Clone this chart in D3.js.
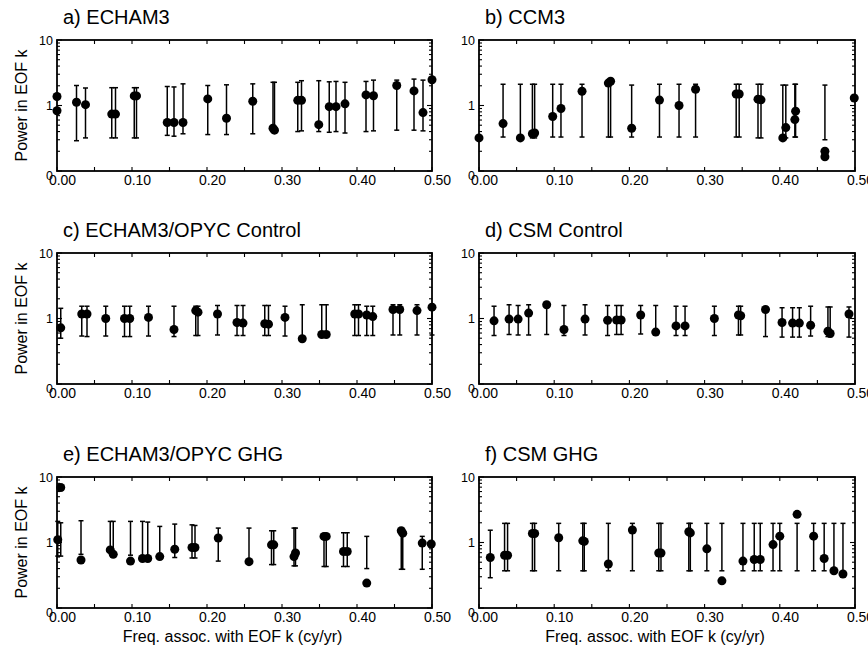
<!DOCTYPE html>
<html>
<head>
<meta charset="utf-8">
<script src="https://cdn.jsdelivr.net/npm/d3@7"></script>
<style>
  body { margin: 0; background: #fff; }
  text { font-family: "Liberation Sans", Arial, Helvetica, sans-serif; fill: #000; }
</style>
</head>
<body>
<svg id="chart" width="868" height="648"></svg>
<script>
// Panel titles and shared axis labelling
const panelTitles = ["a) ECHAM3", "b) CCM3", "c) ECHAM3/OPYC Control", "d) CSM Control", "e) ECHAM3/OPYC GHG", "f) CSM GHG"];
const freqTicks = [0, 0.1, 0.2, 0.3, 0.4, 0.5];
const freqTickLabels = ["0.00", "0.10", "0.20", "0.30", "0.40", "0.50"];
const powerTicks = [0.1, 1, 10];
const powerTickLabels = ["0", "1", "10"];
const xTitle = "Freq. assoc. with EOF k (cy/yr)";
const yTitle = "Power in EOF k";

// a) ECHAM3 : frequency, power, lower / upper bound (null = no bar)
const freqA  = [0.000, 0.000, 0.026, 0.038, 0.073, 0.078, 0.103, 0.106, 0.147, 0.156, 0.168, 0.201, 0.226, 0.261, 0.288, 0.290, 0.321, 0.326, 0.349, 0.363, 0.372, 0.384, 0.412, 0.422, 0.453, 0.476, 0.488, 0.500];
const powerA = [1.37, 0.83, 1.12, 1.03, 0.74, 0.74, 1.40, 1.40, 0.55, 0.55, 0.55, 1.26, 0.64, 1.16, 0.45, 0.42, 1.20, 1.20, 0.51, 0.96, 0.96, 1.06, 1.45, 1.41, 2.02, 1.67, 0.78, 2.47];
const loA    = [null, null, 0.29, 0.32, 0.32, 0.32, 0.32, 0.32, 0.35, 0.34, 0.37, 0.36, 0.36, 0.37, 0.40, 0.40, 0.40, 0.41, 0.40, 0.39, 0.40, 0.38, 0.40, 0.41, 0.42, 0.42, 0.41, null];
const hiA    = [null, null, 2.02, 1.85, 1.87, 1.87, 1.87, 1.87, 1.95, 1.92, 2.14, 2.02, 2.07, 2.14, 2.26, 2.26, 2.26, 2.39, 2.39, 2.30, 2.33, 2.26, 2.33, 2.44, 2.44, 2.53, 2.44, null];

// b) CCM3
const freqB  = [0.000, 0.032, 0.055, 0.071, 0.074, 0.098, 0.109, 0.137, 0.172, 0.175, 0.203, 0.240, 0.266, 0.288, 0.342, 0.346, 0.371, 0.375, 0.404, 0.408, 0.420, 0.421, 0.460, 0.460, 0.499];
const powerB = [0.32, 0.53, 0.32, 0.37, 0.38, 0.68, 0.90, 1.65, 2.20, 2.35, 0.45, 1.21, 1.00, 1.77, 1.50, 1.50, 1.25, 1.22, 0.32, 0.46, 0.61, 0.82, 0.20, 0.165, 1.30];
const loB    = [null, 0.33, 0.33, 0.32, 0.32, 0.33, 0.33, 0.33, 0.33, 0.33, 0.33, 0.33, 0.33, 0.33, 0.33, 0.33, 0.32, 0.32, 0.32, 0.32, 0.33, 0.33, 0.30, null, null];
const hiB    = [null, 2.11, 2.11, 2.11, 2.11, 2.11, 2.11, 2.11, 2.11, 2.11, 2.05, 2.11, 2.11, 2.11, 2.11, 2.11, 2.11, 2.11, 2.05, 2.05, 2.11, 2.11, 2.05, null, null];

// c) ECHAM3/OPYC Control
const freqC  = [0.005, 0.033, 0.040, 0.065, 0.090, 0.097, 0.122, 0.156, 0.185, 0.188, 0.214, 0.240, 0.248, 0.277, 0.282, 0.304, 0.327, 0.353, 0.359, 0.397, 0.402, 0.413, 0.421, 0.448, 0.457, 0.480, 0.500];
const powerC = [0.72, 1.17, 1.17, 1.00, 1.00, 1.00, 1.04, 0.68, 1.32, 1.25, 1.17, 0.87, 0.85, 0.83, 0.82, 1.04, 0.49, 0.57, 0.57, 1.17, 1.17, 1.13, 1.07, 1.37, 1.37, 1.32, 1.49];
const loC    = [0.50, 0.54, 0.53, 0.54, 0.53, 0.53, 0.54, 0.53, 0.55, 0.55, 0.56, 0.55, 0.55, 0.55, 0.55, 0.54, 0.49, 0.57, 0.57, 0.55, 0.55, 0.55, 0.55, 0.56, 0.56, 0.56, 0.56];
const hiC    = [1.43, 1.54, 1.54, 1.54, 1.54, 1.54, 1.54, 1.54, 1.54, 1.54, 1.58, 1.58, 1.58, 1.58, 1.58, 1.54, 1.62, 1.62, 1.62, 1.62, 1.62, 1.54, 1.54, 1.62, 1.62, 1.62, 1.62];

// d) CSM Control
const freqD  = [0.020, 0.040, 0.052, 0.066, 0.090, 0.113, 0.141, 0.171, 0.183, 0.189, 0.215, 0.235, 0.262, 0.274, 0.313, 0.345, 0.348, 0.381, 0.403, 0.417, 0.426, 0.441, 0.464, 0.467, 0.492];
const powerD = [0.92, 0.98, 0.98, 1.21, 1.62, 0.68, 0.98, 0.94, 0.95, 0.95, 1.13, 0.62, 0.77, 0.77, 1.00, 1.13, 1.10, 1.37, 0.87, 0.85, 0.85, 0.79, 0.64, 0.59, 1.17];
const loD    = [0.55, 0.57, 0.56, 0.56, 0.57, 0.55, 0.56, 0.55, 0.57, 0.57, 0.58, 0.62, 0.55, 0.55, 0.55, 0.56, 0.56, 0.53, 0.52, 0.52, 0.52, 0.54, 0.53, 0.53, 0.52];
const hiD    = [1.54, 1.62, 1.58, 1.62, 1.58, 1.58, 1.62, 1.58, 1.58, 1.58, 1.58, 1.58, 1.54, 1.54, 1.54, 1.54, 1.54, 1.50, 1.46, 1.46, 1.46, 1.54, 1.50, 1.50, 1.50];

// e) ECHAM3/OPYC GHG
const freqE  = [0.001, 0.005, 0.032, 0.071, 0.075, 0.098, 0.114, 0.121, 0.137, 0.157, 0.180, 0.184, 0.215, 0.256, 0.286, 0.289, 0.316, 0.318, 0.356, 0.359, 0.382, 0.387, 0.413, 0.459, 0.461, 0.487, 0.499];
const powerE = [1.10, 6.90, 0.54, 0.77, 0.66, 0.52, 0.57, 0.57, 0.61, 0.79, 0.84, 0.84, 1.17, 0.51, 0.92, 0.92, 0.61, 0.69, 1.24, 1.24, 0.73, 0.73, 0.24, 1.51, 1.39, 0.98, 0.95];
const loE    = [0.62, 0.62, 0.66, 0.77, 0.66, 0.64, 0.60, 0.58, 0.61, 0.59, 0.58, 0.58, 0.52, 0.51, 0.46, 0.46, 0.44, 0.44, 0.43, 0.43, 0.43, 0.43, 0.40, 0.39, 0.39, 0.39, null];
const hiE    = [2.10, 2.00, 2.15, 2.10, 2.10, 2.10, 2.10, 2.05, 1.76, 1.91, 1.86, 1.82, 1.66, 1.66, 1.51, 1.51, 1.66, 1.66, 1.24, 1.24, 1.41, 1.41, 1.24, 1.51, 1.39, 1.24, null];

// f) CSM GHG
const freqF  = [0.015, 0.034, 0.038, 0.071, 0.074, 0.106, 0.138, 0.140, 0.172, 0.204, 0.239, 0.242, 0.279, 0.281, 0.303, 0.323, 0.351, 0.366, 0.374, 0.391, 0.400, 0.423, 0.445, 0.459, 0.472, 0.484];
const powerF = [0.59, 0.64, 0.64, 1.37, 1.37, 1.18, 1.06, 1.04, 0.47, 1.55, 0.69, 0.69, 1.46, 1.40, 0.80, 0.26, 0.52, 0.55, 0.55, 0.93, 1.25, 2.69, 1.25, 0.57, 0.37, 0.33];
const loF    = [0.29, 0.37, 0.37, 0.37, 0.37, 0.37, 0.37, 0.37, 0.37, 0.37, 0.37, 0.37, 0.37, 0.37, 0.37, 0.37, 0.37, 0.37, 0.37, 0.37, 0.37, 0.37, 0.37, 0.37, 0.37, 0.33];
const hiF    = [1.54, 1.96, 1.96, 1.96, 1.96, 1.96, 1.96, 1.96, 1.96, 1.96, 1.96, 1.96, 1.96, 1.96, 1.96, 1.96, 1.96, 1.96, 1.96, 1.96, 1.96, 1.96, 1.96, 1.96, 1.96, 1.96];

const series = [
  [freqA, powerA, loA, hiA],
  [freqB, powerB, loB, hiB],
  [freqC, powerC, loC, hiC],
  [freqD, powerD, loD, hiD],
  [freqE, powerE, loE, hiE],
  [freqF, powerF, loF, hiF]
];

// Page layout
const colLeft = [57, 479];
const colRight = [432, 855];
const rowTop = [40, 253, 477];
const plotH = 131;

const svg = d3.select("#chart");
svg.append("rect").attr("width", 868).attr("height", 648).attr("fill", "#fff");

const minorX = d3.range(0, 0.5001, 0.05);
const minorY = [0.2, 0.3, 0.4, 0.5, 0.6, 0.7, 0.8, 0.9, 2, 3, 4, 5, 6, 7, 8, 9];

series.forEach((s, i) => {
  const col = i % 2, row = Math.floor(i / 2);
  const top = rowTop[row], bottom = top + plotH;
  const x = d3.scaleLinear().domain([0, 0.5]).range([colLeft[col], colRight[col]]);
  const y = d3.scaleLog().domain([0.1, 10]).range([bottom, top]);
  const g = svg.append("g");

  // panel title
  g.append("text")
    .attr("x", colLeft[col] + 6).attr("y", top - 16)
    .attr("font-size", 20)
    .text(panelTitles[i]);

  // inward tick marks on all four sides
  const tickG = g.append("g").attr("stroke", "#000").attr("stroke-width", 1.1);
  minorX.forEach(v => {
    tickG.append("line").attr("x1", x(v)).attr("x2", x(v)).attr("y1", bottom).attr("y2", bottom - 4);
    tickG.append("line").attr("x1", x(v)).attr("x2", x(v)).attr("y1", top).attr("y2", top + 4);
  });
  minorY.forEach(v => {
    tickG.append("line").attr("x1", x(0)).attr("x2", x(0) + 3).attr("y1", y(v)).attr("y2", y(v));
    tickG.append("line").attr("x1", x(0.5)).attr("x2", x(0.5) - 3).attr("y1", y(v)).attr("y2", y(v));
  });
  powerTicks.forEach(v => {
    tickG.append("line").attr("x1", x(0)).attr("x2", x(0) + 5).attr("y1", y(v)).attr("y2", y(v));
    tickG.append("line").attr("x1", x(0.5)).attr("x2", x(0.5) - 5).attr("y1", y(v)).attr("y2", y(v));
  });

  // frame
  g.append("rect")
    .attr("x", x(0)).attr("y", top)
    .attr("width", x(0.5) - x(0)).attr("height", plotH)
    .attr("fill", "none").attr("stroke", "#000").attr("stroke-width", 1.8);

  // x tick labels
  const xAxis = d3.axisBottom(x)
    .tickValues(freqTicks)
    .tickSize(0).tickPadding(4)
    .tickFormat((d, k) => freqTickLabels[k]);
  const xa = g.append("g").attr("transform", `translate(0,${bottom})`).call(xAxis);
  xa.select(".domain").remove();
  xa.selectAll("text").attr("font-size", 14).attr("font-family", null).attr("dx", 5);

  // y tick labels
  const yAxis = d3.axisLeft(y)
    .tickValues(powerTicks)
    .tickSize(0).tickPadding(4)
    .tickFormat((d, k) => powerTickLabels[k]);
  const ya = g.append("g").attr("transform", `translate(${x(0)},0)`).call(yAxis);
  ya.select(".domain").remove();
  ya.selectAll("text").attr("font-size", 12.5).attr("font-family", null)
    .attr("dy", d => d === 0.1 ? "0.7em" : "0.32em");

  // error bars
  const [freq, power, lo, hi] = s;
  const bars = g.append("g").attr("stroke", "#000").attr("stroke-width", 1.5);
  freq.forEach((f, k) => {
    if (lo[k] == null || hi[k] == null) return;
    const cx = x(f);
    bars.append("line").attr("x1", cx).attr("x2", cx).attr("y1", y(lo[k])).attr("y2", y(hi[k]));
    bars.append("line").attr("x1", cx - 2.5).attr("x2", cx + 2.5).attr("y1", y(lo[k])).attr("y2", y(lo[k]));
    bars.append("line").attr("x1", cx - 2.5).attr("x2", cx + 2.5).attr("y1", y(hi[k])).attr("y2", y(hi[k]));
  });

  // power dots
  g.append("g").selectAll("circle")
    .data(freq.map((f, k) => [f, power[k]]))
    .join("circle")
    .attr("cx", d => x(d[0])).attr("cy", d => y(d[1]))
    .attr("r", 4.5).attr("fill", "#000");

  // axis titles
  if (col === 0) {
    g.append("text")
      .attr("transform", `translate(27,${(top + bottom) / 2}) rotate(-90)`)
      .attr("text-anchor", "middle").attr("font-size", 16)
      .text(yTitle);
  }
  if (row === 2) {
    g.append("text")
      .attr("x", (x(0) + x(0.5)) / 2 - 12).attr("y", bottom + 34)
      .attr("text-anchor", "middle").attr("font-size", 16)
      .text(xTitle);
  }
});
</script>
</body>
</html>
